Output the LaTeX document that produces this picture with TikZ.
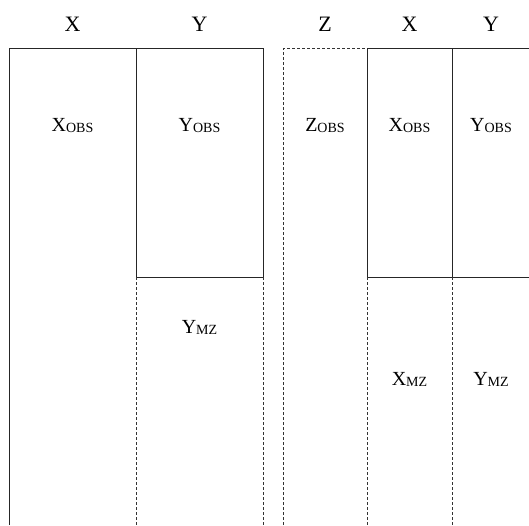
\documentclass[tikz,border=0pt]{standalone}
\usepackage{fontspec}
\setmainfont{Liberation Serif}
\newcommand{\hdr}[1]{\fontsize{22}{26}\selectfont #1}
\newcommand{\lab}[2]{{\fontsize{20}{24}\selectfont #1}\raisebox{-1pt}{\fontsize{14}{16}\selectfont #2}}
\begin{document}
\begin{tikzpicture}[x=1pt,y=1pt,
  solidline/.style={line width=1pt,black!85},
  dashline/.style={line width=1pt,black!80,dash pattern=on 3pt off 2pt},
  txt/.style={anchor=base,inner sep=0pt}]
\useasboundingbox (0,0) rectangle (529,525);
% coordinates
\coordinate (a1) at (9,0);   \coordinate (a2) at (9,476);
\coordinate (b1) at (136,476); \coordinate (b2) at (136,248); \coordinate (b3) at (136,0);
\coordinate (c1) at (263,476); \coordinate (c2) at (263,248); \coordinate (c3) at (263,0);
\coordinate (z1) at (283,0); \coordinate (z2) at (283,476);
\coordinate (d1) at (367,476); \coordinate (d2) at (367,248); \coordinate (d3) at (367,0);
\coordinate (e1) at (452,476); \coordinate (e2) at (452,248); \coordinate (e3) at (452,0);
\coordinate (f1) at (529.5,476); \coordinate (f2) at (529.5,248);
% left panel
\draw[solidline] (a1) -- (a2) -- (b1) -- (b2);
\draw[solidline] (b1) -- (c1) -- (c2) -- (b2);
\draw[dashline] (b2) -- (b3);
\draw[dashline] (c2) -- (c3);
% right panel
\draw[dashline] (z1) -- (z2) -- (d1);
\draw[solidline] (d2) -- (d1) -- (f1);
\draw[solidline] (d2) -- (f2);
\draw[solidline] (e1) -- (e2);
\draw[dashline] (d2) -- (d3);
\draw[dashline] (e2) -- (e3);
% headers
\node[txt] (hx1) at (72.5,493) {\hdr{X}};
\node[txt] (hy1) at (199.5,493) {\hdr{Y}};
\node[txt] (hz) at (325,493) {\hdr{Z}};
\node[txt] (hx2) at (409.5,493) {\hdr{X}};
\node[txt] (hy2) at (491,493) {\hdr{Y}};
% labels
\node[txt] (xobs1) at (72.5,393) {\lab{X}{OBS}};
\node[txt] (yobs1) at (199.5,393) {\lab{Y}{OBS}};
\node[txt] (ymz1) at (199.5,192) {\lab{Y}{MZ}};
\node[txt] (zobs) at (325,393) {\lab{Z}{OBS}};
\node[txt] (xobs2) at (409.5,393) {\lab{X}{OBS}};
\node[txt] (yobs2) at (491,393) {\lab{Y}{OBS}};
\node[txt] (xmz2) at (409.5,140) {\lab{X}{MZ}};
\node[txt] (ymz2) at (491,140) {\lab{Y}{MZ}};
\end{tikzpicture}
\end{document}
